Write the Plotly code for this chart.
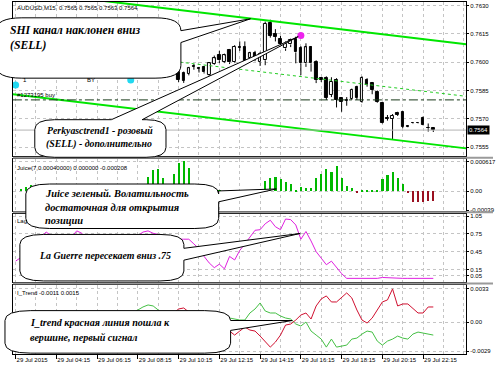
import plotly.graph_objects as go
from plotly.subplots import make_subplots

W, H = 496, 370

# ---------------- data ----------------
candle_idx = list(range(32, 83))
opens = [0.75947,0.75942,0.75937,0.75978,0.75968,0.75973,0.75931,0.75989,0.76036,0.75999,
         0.76062,0.75999,0.76078,0.76078,0.76020,0.76050,0.76000,0.76010,0.76209,0.76152,
         0.76125,0.76073,0.76094,0.76125,0.76073,0.75994,0.76078,0.75999,0.75916,0.75916,
         0.75826,0.75905,0.75811,0.75800,0.75805,0.75868,0.75790,0.75905,0.75889,0.75842,
         0.75784,0.75706,0.75701,0.75732,0.75737,0.75662,0.75675,0.75679,0.75706,0.75653,0.7565]
highs = [0.75958,0.75950,0.75975,0.75990,0.75975,0.75980,0.76000,0.76035,0.76060,0.76045,
         0.76070,0.76090,0.76110,0.76110,0.76055,0.76060,0.76055,0.76215,0.76225,0.76175,
         0.76140,0.76110,0.76125,0.76135,0.76085,0.76100,0.76085,0.76010,0.75920,0.75925,
         0.75920,0.75915,0.75815,0.75815,0.75860,0.75875,0.75925,0.75915,0.75895,0.75850,
         0.75790,0.75720,0.75725,0.75737,0.75740,0.75665,0.75682,0.75682,0.75712,0.75675,0.7565]
lows = [0.75895,0.75890,0.75930,0.75960,0.75945,0.75940,0.75921,0.75985,0.75995,0.75995,
        0.75990,0.75995,0.76060,0.75990,0.76010,0.76005,0.75980,0.75984,0.76130,0.76110,
        0.76085,0.76060,0.76080,0.75994,0.75931,0.75975,0.75950,0.75889,0.75895,0.75800,
        0.75815,0.75760,0.75737,0.75769,0.75800,0.75800,0.75785,0.75870,0.75830,0.75785,
        0.75675,0.75690,0.75590,0.75715,0.75650,0.75655,0.75672,0.75675,0.75665,0.75632,0.7563]
closes = [0.75905,0.75900,0.75968,0.75975,0.75965,0.75947,0.75994,0.76020,0.76010,0.76036,
          0.75999,0.76083,0.76075,0.75999,0.76047,0.76015,0.76045,0.76204,0.76141,0.76136,
          0.76099,0.76099,0.76115,0.76052,0.75994,0.76078,0.75994,0.75905,0.75905,0.75811,
          0.75895,0.75800,0.75790,0.75795,0.75853,0.75811,0.75916,0.75879,0.75853,0.75790,
          0.75679,0.75701,0.75716,0.75721,0.75659,0.75659,0.75679,0.75677,0.75669,0.75650,0.7564]

# SHI channel (bar index, price) endpoints
chan_x = [-0.53, 88.45]
chan_upper = [0.76382, 0.76095]
chan_mid = [0.76106, 0.75819]
chan_lower = [0.75830, 0.75543]
order_price = 0.75800
bid_price = 0.7564
pink_dot_x, pink_dot_y = [56], [0.76141]
cyan_x, cyan_y = [0, 22.6], [0.75879, 0.75905]

bars_all = list(range(0, 83))
juice = [0, 0.00005,
         0.00008,0.00012,0.0001,0.00006,0.00009,0.00013,0.0001,0.00007,0.00005,0.00008,0.0001,0.00012,
         0.00009,0.00006,0.00004,0.00007,0.0001,0.00012,0.00011,0.00009,0.00008,0.0001,0.00012,0.00014,
         0.000296,0.000443,0.000463,0.000282,0.00012,0.000348,0.000578,0.000617,0.000483,
         0.00012,0.0001,0.00008,0.00006,0.00005,0.00003,
         0,0,0,0,0,0,0,0,
         0.000215,0.000262,0.000296,0.000242,0.000195,0.000147,0.00002,0.000095,0.00006,0.00006,
         0.000282,0.000348,0.000463,0.000397,0.000510,0.000282,0.000107,0.00006,-0.00003,
         0.00001,0.00001,0.00001,0.00001,0.000242,0.000328,0.000397,0.000282,0.000147,-0.00002,
         -0.00022,-0.00022,-0.00022,-0.00021,-0.00021]

laguerre = [0.29,0.35,0.45,0.55,0.62,0.70,0.78,0.72,0.62,0.55,0.60,0.70,0.80,0.76,0.66,0.55,0.50,
            0.45,0.40,0.45,0.52,0.58,0.62,0.68,0.72,0.78,0.80,0.76,0.74,0.70,0.66,0.64,0.66,
            0.66,0.66,0.58,0.50,0.37,0.26,0.18,0.24,0.16,0.37,0.31,0.47,0.58,0.69,0.81,0.82,0.92,
            0.98,0.87,0.82,1.00,0.99,0.90,0.66,0.79,0.63,0.45,0.34,0.23,0.29,0.18,0.08,0.0,
            0,0,0,0,0,0,0.015,0.01,0,0,0,0,0,0,0,0,0]

itrend_green = [-0.0010,-0.0012,-0.0008,-0.0004,0.0000,0.0003,0.0002,-0.0002,-0.0006,-0.0009,-0.0012,
                -0.0010,-0.0006,-0.0002,0.0002,0.0004,0.0002,-0.0001,-0.0004,-0.0002,0.0001,0.0004,
                0.0006,0.0009,0.0012,0.0015,0.0017,0.0016,0.0012,0.0007,0.0003,-0.0002,-0.0006,-0.0009,
                -0.0007,-0.0004,-0.0001,0.0001,0.0003,0.0002,0.0004,0.0005,0.0004,0.0003,0.0002,
                0.0002,0.0009,0.0013,0.0019,0.0011,0.0009,0.0009,0.0006,0.0004,0.0003,-0.0002,-0.0004,
                0.0000,-0.0009,-0.0013,-0.0017,-0.0025,-0.0017,-0.0025,-0.0024,-0.0023,-0.0017,-0.0016,
                -0.0012,-0.0009,-0.0010,-0.0019,-0.0023,-0.0019,-0.0017,-0.0014,-0.0016,-0.0017,-0.0012,
                -0.0010,-0.0011,-0.0012,-0.0013]
itrend_red = [0.0008,0.0009,0.0006,0.0002,-0.0002,-0.0005,-0.0004,0.0000,0.0004,0.0007,0.0009,0.0008,
              0.0004,0.0000,-0.0004,-0.0006,-0.0004,-0.0001,0.0002,0.0000,-0.0003,-0.0006,-0.0008,-0.0011,
              -0.0014,-0.0017,-0.0020,-0.0018,-0.0013,-0.0006,0.0002,0.0009,0.0013,0.0014,0.0010,0.0006,
              0.0003,0.0000,-0.0002,-0.0001,-0.0003,-0.0005,-0.0009,-0.0013,-0.0009,
              -0.0005,-0.0008,-0.0009,-0.0014,-0.0019,-0.0025,-0.0020,-0.0013,-0.0003,-0.0002,0.0002,
              0.0007,0.0009,0.0003,0.0016,0.0023,0.0026,0.0020,0.0020,0.0025,0.0029,0.0024,0.0012,
              0.0002,-0.0001,0.0004,0.0012,0.0020,0.0022,0.0033,0.0016,0.0018,0.0018,0.0013,0.0009,
              0.0009,0.0015,0.0015]

time_ticks = list(range(0, 81, 8))
time_labels = ["29 Jul 2015", "29 Jul 04:15", "29 Jul 06:15", "29 Jul 08:15", "29 Jul 10:15",
               "29 Jul 12:15", "29 Jul 14:15", "29 Jul 16:15", "29 Jul 18:15", "29 Jul 20:15",
               "29 Jul 22:15"]
price_ticks = [0.7630, 0.7615, 0.7600, 0.7585, 0.7570, 0.7555]
juice_ticks = [0.000617, 0.0, -0.00039]
juice_tick_text = ["0.000617", "0.00", "-0.00039"]
lag_ticks = [1.05, 0.75, 0.45, 0.15, 0.05]
itrend_ticks = [0.0033, 0.0, -0.0029]
itrend_tick_text = ["0.0033", "0.00", "-0.0029"]

# ---------------- figure ----------------
fig = make_subplots(rows=4, cols=1, shared_xaxes=True, vertical_spacing=0.01)

# candle wicks (upper and lower parts, so white bodies stay clean)
wx, wy = [], []
for k, o, h, l, c in zip(candle_idx, opens, highs, lows, closes):
    top, bot = max(o, c), min(o, c)
    wx += [k, k, None, k, k, None]
    wy += [h, top, None, bot, l, None]
fig.add_trace(go.Scatter(x=wx, y=wy, mode="lines", line=dict(color="black", width=1),
                         showlegend=False, hoverinfo="skip"), row=1, col=1)

MIN_BODY = 0.000012
body_base = [min(o, c) for o, c in zip(opens, closes)]
body_h = [max(abs(c - o), MIN_BODY) for o, c in zip(opens, closes)]
body_fill = ["white" if c > o else "black" for o, c in zip(opens, closes)]
fig.add_trace(go.Bar(x=candle_idx, y=body_h, base=body_base, width=0.5,
                     marker=dict(color=body_fill, line=dict(color="black", width=1)),
                     showlegend=False, hoverinfo="skip"), row=1, col=1)

fig.add_trace(go.Scatter(x=chan_x, y=chan_upper, mode="lines",
                         line=dict(color="#00e600", width=2), showlegend=False), row=1, col=1)
fig.add_trace(go.Scatter(x=chan_x, y=chan_lower, mode="lines",
                         line=dict(color="#00e600", width=2), showlegend=False), row=1, col=1)
fig.add_trace(go.Scatter(x=chan_x, y=chan_mid, mode="lines",
                         line=dict(color="#22cc22", width=1, dash="dot"), showlegend=False), row=1, col=1)
fig.add_trace(go.Scatter(x=chan_x, y=[order_price, order_price], mode="lines",
                         line=dict(color="#1a3a1a", width=1, dash="dashdot"), showlegend=False), row=1, col=1)
fig.add_trace(go.Scatter(x=chan_x, y=[bid_price, bid_price], mode="lines",
                         line=dict(color="#b4b4b4", width=1), showlegend=False), row=1, col=1)
fig.add_trace(go.Scatter(x=pink_dot_x, y=pink_dot_y, mode="markers",
                         marker=dict(color="#ee22ee", size=7), showlegend=False), row=1, col=1)
fig.add_trace(go.Scatter(x=cyan_x, y=cyan_y, mode="markers",
                         marker=dict(color="#22d8f0", size=7), showlegend=False), row=1, col=1)

jcolors = ["#00b800" if v >= 0 else "#9a1020" for v in juice]
fig.add_trace(go.Bar(x=bars_all, y=juice, marker=dict(color=jcolors, line=dict(width=0)),
                     width=0.42, showlegend=False), row=2, col=1)

fig.add_trace(go.Scatter(x=bars_all, y=laguerre, mode="lines",
                         line=dict(color="#e020e0", width=1), showlegend=False), row=3, col=1)

fig.add_trace(go.Scatter(x=bars_all, y=itrend_green, mode="lines",
                         line=dict(color="#44c044", width=1), showlegend=False), row=4, col=1)
fig.add_trace(go.Scatter(x=bars_all, y=itrend_red, mode="lines",
                         line=dict(color="#d01030", width=1), showlegend=False), row=4, col=1)


def ypaper(py):
    return 1 - py / H


xdom = [13 / W, 469 / W]
tickfont = dict(family="Liberation Sans", size=6, color="black")
grid = dict(showgrid=True, gridcolor="#c4c4c4", griddash="dot", gridwidth=1)
axline = dict(showline=True, linecolor="black", linewidth=1, mirror=True, zeroline=False)

xcommon = dict(range=[-0.53, 88.45], domain=xdom, tick0=0, dtick=4, tickmode="linear",
               showticklabels=False, ticks="", **grid, **axline)
fig.update_layout(
    xaxis=dict(**xcommon, rangeslider=dict(visible=False)),
    xaxis2=dict(**xcommon),
    xaxis3=dict(**xcommon),
    xaxis4=dict(range=[-0.53, 88.45], domain=xdom, tickmode="array", tickvals=time_ticks,
                ticktext=time_labels, showticklabels=True, ticks="outside", ticklen=4,
                tickcolor="black", tickangle=0, ticklabelposition="outside right", tickfont=tickfont,
                minor=dict(tick0=0, dtick=4, showgrid=True, gridcolor="#c4c4c4", griddash="dot"),
                showgrid=True, gridcolor="#c4c4c4", griddash="dot", **axline),
)

ycommon = dict(side="right", ticks="outside", ticklen=2, tickcolor="black", tickfont=tickfont,
               tickmode="array", **grid, **axline)
fig.update_layout(
    yaxis=dict(domain=[ypaper(157), ypaper(1)], range=[0.75501, 0.76319], tickvals=price_ticks,
               ticktext=[f"{v:.4f}" for v in price_ticks], **ycommon),
    yaxis2=dict(domain=[ypaper(212), ypaper(160)], range=[-0.000400, 0.000665], tickvals=juice_ticks,
                ticktext=juice_tick_text, **ycommon),
    yaxis3=dict(domain=[ypaper(284), ypaper(215)], range=[-0.06, 1.09], tickvals=lag_ticks,
                ticktext=[f"{v:.2f}" for v in lag_ticks], **ycommon),
    yaxis4=dict(domain=[ypaper(357), ypaper(287)], range=[-0.0032, 0.0037], tickvals=itrend_ticks,
                ticktext=itrend_tick_text, **ycommon),
)

shapes = []
for py in [158.5, 213.5, 285.5]:
    shapes.append(dict(type="line", xref="paper", yref="paper", x0=13 / W, x1=1,
                       y0=ypaper(py), y1=ypaper(py), line=dict(color="#9a9a9a", width=2), layer="above"))


def P(x, y):
    return f"{x / W:.5f},{1 - y / H:.5f}"


def bubble(x0, y0, x1, y1, rx, ry, side, a, b, tx, ty):
    d = f"M {P(x0 + rx, y0)} "
    if side == "top":
        d += f"L {P(a, y0)} L {P(tx, ty)} L {P(b, y0)} "
    d += f"L {P(x1 - rx, y0)} Q {P(x1, y0)} {P(x1, y0 + ry)} "
    if side == "right":
        d += f"L {P(x1, a)} L {P(tx, ty)} L {P(x1, b)} "
    d += f"L {P(x1, y1 - ry)} Q {P(x1, y1)} {P(x1 - rx, y1)} "
    d += f"L {P(x0 + rx, y1)} Q {P(x0, y1)} {P(x0, y1 - ry)} "
    d += f"L {P(x0, y0 + ry)} Q {P(x0, y0)} {P(x0 + rx, y0)} Z"
    return dict(type="path", xref="paper", yref="paper", path=d, fillcolor="white",
                line=dict(color="black", width=1), layer="above")


shapes.append(bubble(-4, 17, 182, 78, 26, 13, "right", 30, 42, 252, 18))
shapes.append(bubble(35, 120, 167, 158, 20, 10, "top", 112, 143, 300, 36))
shapes.append(bubble(26, 185, 220, 230, 24, 10, "right", 192, 203, 278, 190))
shapes.append(bubble(20, 236, 185, 283, 24, 10, "right", 250, 262, 302, 235))
shapes.append(bubble(5, 313, 232, 356, 26, 10, "right", 323, 333, 294, 323))
fig.update_layout(shapes=shapes)

ann = []
small = dict(family="Liberation Sans", size=6, color="black")


def label(x, y, text, font, xanchor="left"):
    ann.append(dict(x=x / W, y=1 - y / H, xref="paper", yref="paper", text=text, showarrow=False,
                    xanchor=xanchor, yanchor="middle", font=font))


label(15, 7, "AUDUSD,M15  0.7565 0.7565 0.7563 0.7564", small)
label(15, 95, "#1273195 buy", small)
label(21, 80, "1", small)
label(86, 80, "BY", small)
label(15, 169, "Juice(7,0.00040000) 0.000000 -0.000208", small)
label(15, 222, "Lag", small)
label(15, 295, "I_Trend -0.0011 0.0015", small)


def serif(size):
    return dict(family="Liberation Serif", size=size, color="black")


label(8, 30, "<b><i>SHI канал наклонен вниз</i></b>", serif(11.7))
label(8, 45, "<b><i>(SELL)</i></b>", serif(11.7))
label(45, 131, "<b><i>Perkyasctrend1 - розовый</i></b>", serif(9.8))
label(44, 145, "<b><i>(SELL) - дополнительно</i></b>", serif(9.8))
label(43, 195, "<b><i>Juice зеленый. Волатильность</i></b>", serif(10.4))
label(43, 209, "<b><i>достаточная для открытия</i></b>", serif(10.4))
label(43, 222, "<b><i>позиции</i></b>", serif(10.4))
label(37, 257, "<b><i>La Guerre пересекает вниз .75</i></b>", serif(9.9))
label(28, 325, "<b><i>I_trend красная линия пошла к</i></b>", serif(10.1))
label(28, 340, "<b><i>вершине, первый сигнал</i></b>", serif(10.1))

ann.append(dict(x=470 / W, y=bid_price, xref="paper", yref="y", text="0.7564", showarrow=False,
                xanchor="left", yanchor="middle", bgcolor="black",
                font=dict(family="Liberation Sans", size=6, color="white"), borderpad=1))
fig.update_layout(annotations=ann)

fig.update_layout(width=W, height=H, margin=dict(l=0, r=0, t=0, b=0),
                  paper_bgcolor="white", plot_bgcolor="white", showlegend=False,
                  bargap=0, barmode="overlay")

fig.write_html("out.html", config={"displayModeBar": False},
               post_script="document.body.style.margin='0';document.body.style.overflow='hidden';")
